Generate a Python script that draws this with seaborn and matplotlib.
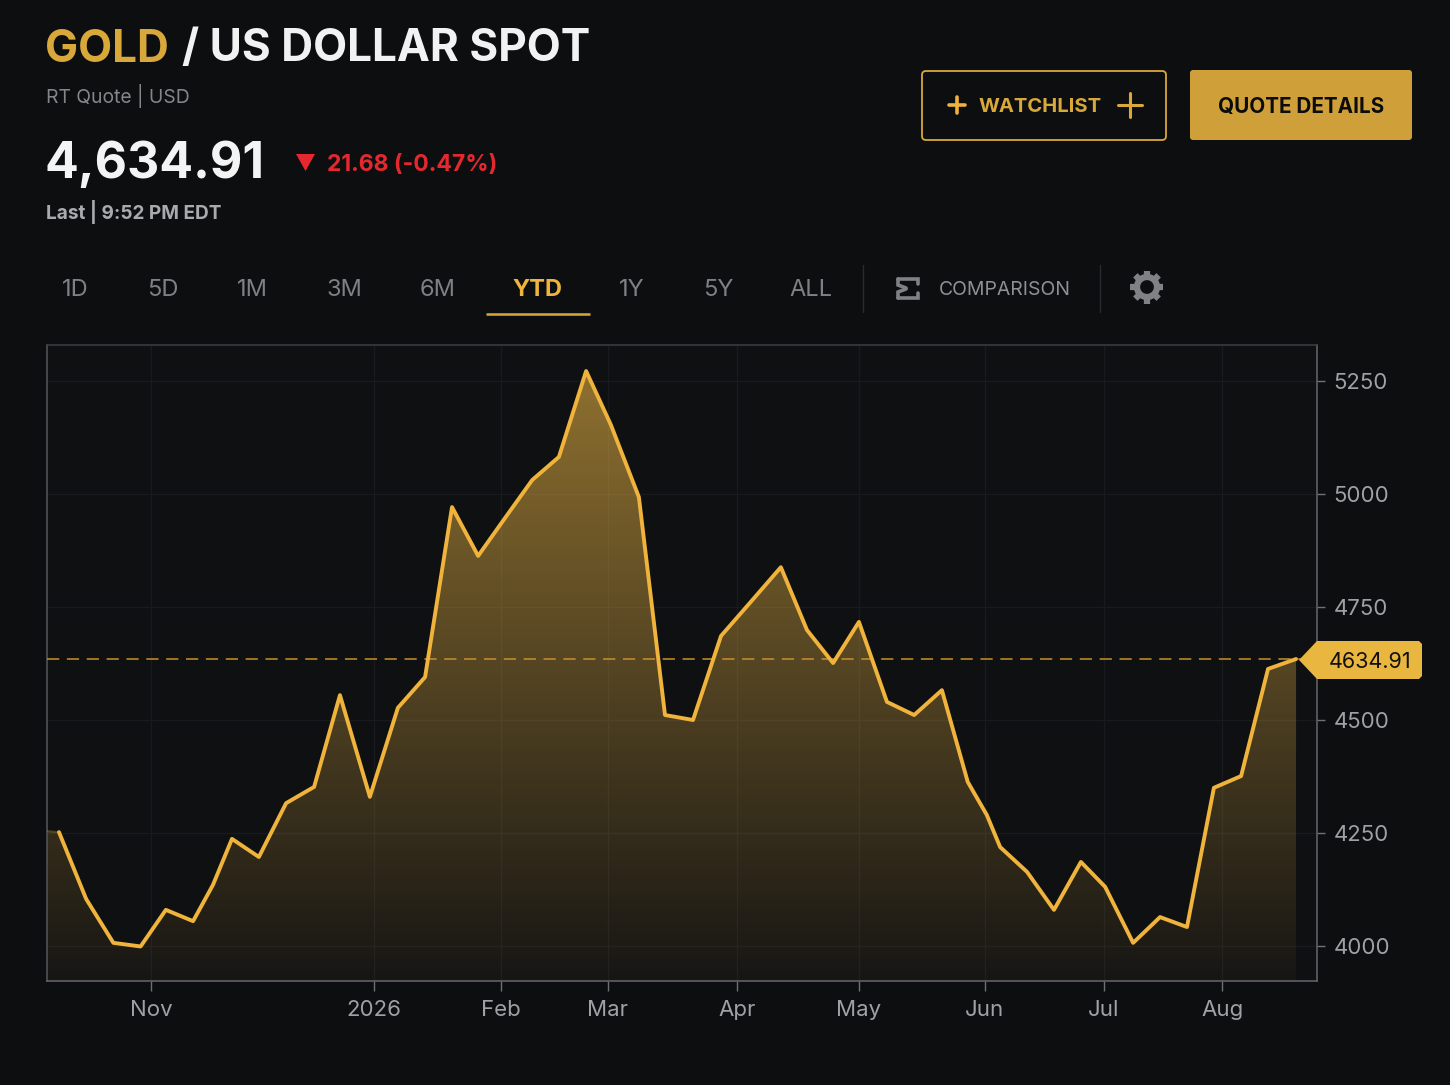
import numpy as np
import pandas as pd
import matplotlib
matplotlib.use("Agg")
import matplotlib.pyplot as plt
import seaborn as sns
from matplotlib.patches import FancyBboxPatch, Polygon, Circle

# ================================
# DATA
# ================================
weeks = [-0.44, 0.0, 1.0, 2.0, 3.0, 3.93, 4.93, 5.66, 6.36, 7.35, 8.35, 9.38, 10.33,
         11.43, 12.46, 13.46, 14.45, 15.41, 16.4, 17.4, 18.38, 19.38, 20.29, 21.32,
         22.28, 23.31, 24.34, 25.4, 26.54, 27.5, 28.46, 29.41, 30.44, 31.44, 32.46,
         33.41, 34.11, 34.6, 35.59, 36.58, 37.57, 38.46, 39.49, 40.48, 41.47, 42.46,
         43.46, 44.45, 45.48]
prices = [4254, 4252, 4104, 4007, 3999, 4080, 4055, 4135, 4237, 4197, 4316, 4352, 4555,
          4330, 4527, 4595, 4971, 4863, 4947, 5031, 5082, 5272, 5153, 4993, 4511, 4500,
          4686, 4759, 4838, 4699, 4626, 4717, 4540, 4511, 4566, 4363, 4290, 4219, 4164,
          4080, 4186, 4131, 4007, 4064, 4042, 4350, 4376, 4613, 4634.91]
last_price = 4634.91

month_ticks = [3.38, 11.58, 16.25, 20.18, 24.93, 29.41, 34.04, 38.42, 42.76]
month_labels = ["Nov", "2026", "Feb", "Mar", "Apr", "May", "Jun", "Jul", "Aug"]
price_ticks = [4000, 4250, 4500, 4750, 5000, 5250]
ranges = ["1D", "5D", "1M", "3M", "6M", "YTD", "1Y", "5Y", "ALL"]
range_x = [75, 163, 252, 344, 438, 537, 632, 718, 811]

BG = "#0d0e10"
PANEL = "#0f1012"
GOLD = "#f0b43c"
GOLD_DIM = "#d9a83a"
GREY = "#a0a1a5"

W, H = 1450, 1085

# ================================
# THEME
# ================================
sns.set_theme(style="dark", rc={"figure.facecolor": BG, "axes.facecolor": PANEL})
plt.rcParams["font.family"] = ["Inter", "DejaVu Sans"]

df = pd.DataFrame({"week": weeks, "price": prices})

fig = plt.figure(figsize=(W / 100, H / 100), dpi=100)
ax = fig.add_axes([47 / W, 1 - 981 / H, (1317 - 47) / W, (981 - 345) / H])

# ================================
# CHART
# ================================
sns.lineplot(data=df.iloc[1:], x="week", y="price", ax=ax, color=GOLD, linewidth=2.8,
             zorder=5, estimator=None, sort=False)

ax.set_xlim(-0.44, 46.25)
ax.set_ylim(3922.6, 5329.6)

# gradient under the line
area = ax.fill_between(df["week"], df["price"], 3922.6, color="none")
grad = np.zeros((256, 1, 4))
grad[:, 0, 0] = 0.9
grad[:, 0, 1] = 0.7
grad[:, 0, 2] = 0.27
grad[:, 0, 3] = np.linspace(0.04, 0.62, 256)
im = ax.imshow(grad, extent=[-0.44, 46.25, 3922.6, 5329.6], origin="lower", aspect="auto", zorder=2)
im.set_clip_path(area.get_paths()[0], transform=ax.transData)
ax.plot(weeks[:2], prices[:2], color=GOLD, alpha=0.25, lw=1.5, zorder=3)

ax.axhline(last_price, color="#c8902c", lw=1.1, dashes=(8, 5), zorder=4)

ax.set_xticks(month_ticks)
ax.set_xticklabels(month_labels)
ax.set_yticks(price_ticks)
ax.yaxis.tick_right()
ax.set_xlabel("")
ax.set_ylabel("")
ax.grid(True, color="#191a1d", lw=1)
ax.set_axisbelow(True)
ax.tick_params(axis="x", colors="#6f7175", labelcolor=GREY, labelsize=16, length=7, width=1, pad=7, bottom=True)
ax.tick_params(axis="y", colors="#6f7175", labelcolor=GREY, labelsize=16, length=6, width=1, pad=6, right=True)
for side, col in {"left": "#55575b", "bottom": "#66686c", "top": "#3c3e42", "right": "#66686c"}.items():
    ax.spines[side].set_visible(True)
    ax.spines[side].set_color(col)
    ax.spines[side].set_linewidth(1.1)

# ================================
# PAGE FURNITURE (pixel overlay)
# ================================
ui = fig.add_axes([0, 0, 1, 1], zorder=10)
ui.set_xlim(0, W)
ui.set_ylim(H, 0)
ui.axis("off")
ui.patch.set_alpha(0)

# header
ui.text(45, 45, "GOLD", color=GOLD_DIM, fontsize=31.8, fontweight="bold", va="center_baseline")
ui.text(182, 45, "/ US DOLLAR SPOT", color="#f2f2f2", fontsize=31.8, fontweight="bold", va="center_baseline")
ui.text(46, 93, "RT Quote | USD", color="#85868a", fontsize=13.9, va="center_baseline")
ui.text(45, 159, "4,634.91", color="#f4f4f4", fontsize=36, fontweight="bold", va="center_baseline")
ui.add_patch(Polygon([(296, 154), (315, 154), (305.5, 171)], color="#e5282e", lw=0))
ui.text(327, 162, "21.68 (-0.47%)", color="#e5282e", fontsize=16.5, fontweight="bold", va="center_baseline")
ui.text(46, 210, "Last | 9:52 PM EDT", color="#a9aaad", fontsize=13.7, fontweight="bold", va="center_baseline")

# buttons
ui.add_patch(FancyBboxPatch((922, 71), 244, 69, boxstyle="round,pad=0,rounding_size=4",
                            fc="none", ec=GOLD_DIM, lw=1.3))
ui.plot([957, 957], [97, 113], color=GOLD, lw=2.6)
ui.plot([949, 965], [105, 105], color=GOLD, lw=2.6)
ui.text(1040, 105, "WATCHLIST", color=GOLD_DIM, fontsize=14.5, fontweight="bold", ha="center", va="center_baseline")
ui.plot([1130, 1130], [93, 117], color=GOLD_DIM, lw=2.2)
ui.plot([1118, 1142], [105, 105], color=GOLD_DIM, lw=2.2)
ui.add_patch(FancyBboxPatch((1190, 70), 222, 70, boxstyle="round,pad=0,rounding_size=3",
                            fc="#cfa03a", ec="none"))
ui.text(1301, 105, "QUOTE DETAILS", color="#0c0c0c", fontsize=14.9, fontweight="bold", ha="center", va="center_baseline")

# range tabs
for name, x in zip(ranges, range_x):
    active = name == "YTD"
    ui.text(x, 287, name, color=GOLD if active else "#7f8084", fontsize=17,
            fontweight="bold" if active else "normal", ha="center", va="center_baseline")
ui.plot([486, 590], [314, 314], color=GOLD_DIM, lw=1.8, solid_capstyle="butt")
for x in [863, 1100]:
    ui.plot([x, x], [265, 312], color="#2a2b2e", lw=1)

# comparison icon
ui.plot([898, 918, 918], [279, 279, 284], color="#808185", lw=2.6, solid_joinstyle="miter")
ui.plot([898, 898, 906], [279, 285, 288], color="#808185", lw=2.6, solid_joinstyle="miter")
ui.plot([898, 918, 918], [298, 298, 293], color="#808185", lw=2.6, solid_joinstyle="miter")
ui.plot([898, 898, 906], [298, 292, 289], color="#808185", lw=2.6, solid_joinstyle="miter")
ui.text(1005, 288, "COMPARISON", color="#8f9094", fontsize=14, ha="center", va="center_baseline")

# gear
for a in np.deg2rad(np.arange(0, 360, 45)):
    ui.plot([1147 + 10 * np.cos(a), 1147 + 16.5 * np.cos(a)], [287 + 10 * np.sin(a), 287 + 16.5 * np.sin(a)],
            color="#808185", lw=4.5, solid_capstyle="butt")
ui.add_patch(Circle((1147, 287), 10, fc="none", ec="#808185", lw=4.5))

# last price tag
ui.add_patch(Polygon([(1299, 660), (1317, 641), (1419, 641), (1422, 644), (1422, 676), (1419, 679), (1317, 679)],
                     closed=True, fc="#e9b63f", ec="none"))
ui.text(1370, 660, f"{last_price:.2f}", color="#111111", fontsize=15.5, ha="center", va="center_baseline")

fig.savefig("out.png", dpi=100, facecolor=BG)
plt.close(fig)
